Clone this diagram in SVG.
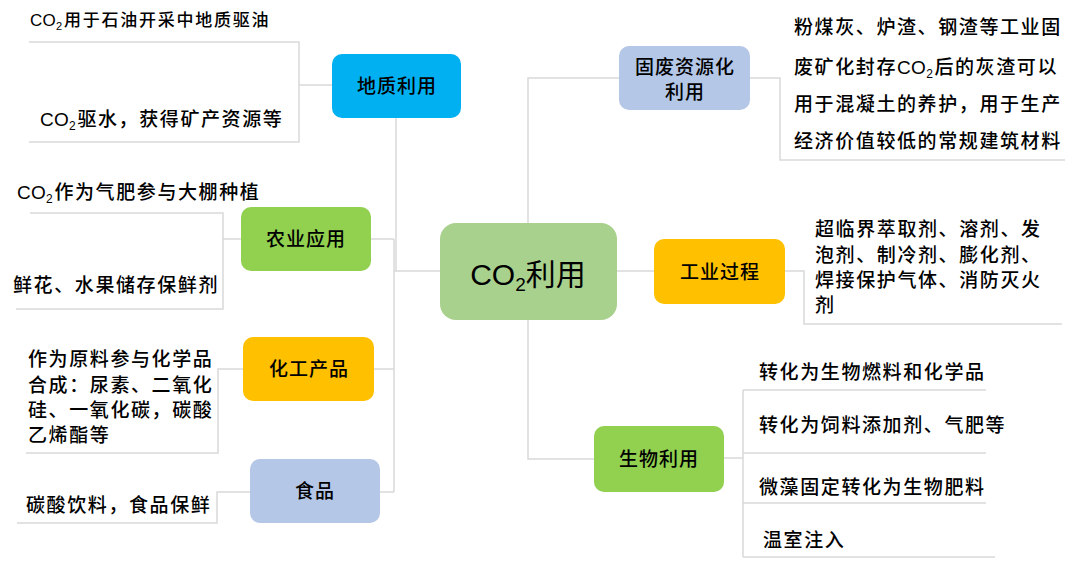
<svg xmlns="http://www.w3.org/2000/svg" width="1080" height="565" viewBox="0 0 1080 565">
<style>
text{font-family:"Liberation Sans","Noto Sans CJK SC",sans-serif;fill:#000;font-weight:500;}
.leaf{font-size:19px;letter-spacing:1.6px;}
.lbl{font-size:19px;letter-spacing:1px;text-anchor:middle;}
.co{letter-spacing:0.3px;}
.conn path{fill:none;stroke:#d9d9d9;stroke-width:1.5;}
.blue{fill:#00b0f0;}
.green{fill:#92d050;}
.orange{fill:#ffc000;}
.lav{fill:#b4c7e7;}
.main{fill:#a9d18e;}
</style>
<rect width="1080" height="565" fill="#fff"/>
<g class="conn">
<path d="M396 118V271"/>
<path d="M394 239V492"/>
<path d="M371 239H394"/>
<path d="M374 369H394"/>
<path d="M380 492H394"/>
<path d="M394 271H440"/>
<path d="M332 85H299"/>
<path d="M29 42H299V142H29"/>
<path d="M241 239H223"/>
<path d="M30 213H223V309H16"/>
<path d="M243 369H218V453H26"/>
<path d="M250 492H217V523H17"/>
<path d="M528 223V78H619"/>
<path d="M528 320V459H594"/>
<path d="M617 271H654"/>
<path d="M750 78H780V160H1065"/>
<path d="M785 271H804V324H1062"/>
<path d="M724 458H743"/>
<path d="M743 390V557"/>
<path d="M743 390H986M743 453H986M743 503H986M743 557H995"/>
</g>
<g id="center">
<rect x="440" y="223" width="177" height="97" rx="16" class="main"/>
<text x="528" y="285" text-anchor="middle" font-size="30" style="font-weight:400">CO<tspan font-size="19" dy="6">2</tspan><tspan dy="-6">利用</tspan></text>
</g>
<g id="geo">
<rect x="332" y="54" width="129" height="64" rx="10" class="blue"/>
<text x="397" y="93" class="lbl">地质利用</text>
</g>
<g id="geo-leaves">
<text x="30" y="26" class="leaf" style="font-size:17px;letter-spacing:1.75px"><tspan class="co">CO</tspan><tspan style="font-size:11px" dy="4">2</tspan><tspan dy="-4">用于石油开采中地质驱油</tspan></text>
<text x="40" y="126" class="leaf"><tspan class="co">CO</tspan><tspan style="font-size:12px" dy="4">2</tspan><tspan dy="-4">驱水，获得矿产资源等</tspan></text>
</g>
<g id="agri">
<rect x="241" y="207" width="130" height="64" rx="10" class="green"/>
<text x="306" y="246" class="lbl">农业应用</text>
</g>
<g id="agri-leaves">
<text x="17" y="199" class="leaf"><tspan class="co">CO</tspan><tspan style="font-size:12px" dy="4">2</tspan><tspan dy="-4">作为气肥参与大棚种植</tspan></text>
<text x="13" y="292" class="leaf">鲜花、水果储存保鲜剂</text>
</g>
<g id="chem">
<rect x="243" y="337" width="131" height="64" rx="10" class="orange"/>
<text x="309" y="376" class="lbl">化工产品</text>
</g>
<g id="chem-leaves">
<text x="28" y="366" class="leaf">作为原料参与化学品</text>
<text x="28" y="392" class="leaf">合成：尿素、二氧化</text>
<text x="28" y="417" class="leaf">硅、一氧化碳，碳酸</text>
<text x="28" y="442" class="leaf">乙烯酯等</text>
</g>
<g id="food">
<rect x="250" y="459" width="130" height="64" rx="10" class="lav"/>
<text x="315" y="498" class="lbl">食品</text>
</g>
<g id="food-leaves">
<text x="26" y="512" class="leaf">碳酸饮料，食品保鲜</text>
</g>
<g id="waste">
<rect x="619" y="46" width="131" height="64" rx="10" class="lav"/>
<text x="685" y="74" class="lbl">固废资源化</text>
<text x="685" y="99" class="lbl">利用</text>
</g>
<g id="waste-leaves">
<text x="794" y="34" class="leaf">粉煤灰、炉渣、钢渣等工业固</text>
<text x="794" y="74" class="leaf">废矿化封存<tspan class="co">CO</tspan><tspan style="font-size:12px" dy="4">2</tspan><tspan dy="-4">后的灰渣可以</tspan></text>
<text x="794" y="111" class="leaf">用于混凝土的养护，用于生产</text>
<text x="794" y="148" class="leaf">经济价值较低的常规建筑材料</text>
</g>
<g id="industry">
<rect x="654" y="239" width="131" height="65" rx="10" class="orange"/>
<text x="720" y="279" class="lbl">工业过程</text>
</g>
<g id="industry-leaves">
<text x="815" y="236" class="leaf">超临界萃取剂、溶剂、发</text>
<text x="815" y="262" class="leaf">泡剂、制冷剂、膨化剂、</text>
<text x="815" y="287" class="leaf">焊接保护气体、消防灭火</text>
<text x="815" y="312" class="leaf">剂</text>
</g>
<g id="bio">
<rect x="594" y="426" width="130" height="66" rx="10" class="green"/>
<text x="659" y="466" class="lbl">生物利用</text>
</g>
<g id="bio-leaves">
<text x="759" y="379" class="leaf">转化为生物燃料和化学品</text>
<text x="759" y="432" class="leaf">转化为饲料添加剂、气肥等</text>
<text x="759" y="494" class="leaf">微藻固定转化为生物肥料</text>
<text x="763" y="547" class="leaf">温室注入</text>
</g>
</svg>
